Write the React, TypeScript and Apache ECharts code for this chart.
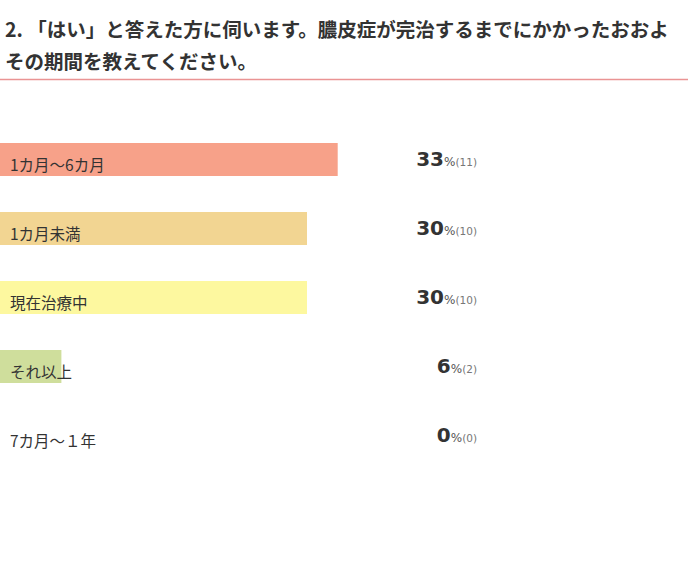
import React, { useEffect, useRef } from "react";
import * as echarts from "echarts";

const titleLines = [
  "2. 「はい」と答えた方に伺います。膿皮症が完治するまでにかかったおおよ",
  "その期間を教えてください。",
];
const categories = ["1カ月～6カ月", "1カ月未満", "現在治療中", "それ以上", "7カ月～１年"];
const counts = [11, 10, 10, 2, 0];
const percents = [33, 30, 30, 6, 0];
const barColors = ["#f7a189", "#f2d592", "#fdf89f", "#cfde9c", "#dddddd"];

export default function App() {
  const ref = useRef<HTMLDivElement>(null);
  useEffect(() => {
    if (!ref.current) return;
    const chart = echarts.init(ref.current, null, { renderer: "svg" });
    const rightLabels = categories.map((_, i) => `{n|${percents[i]}}{p|%}{c|(${counts[i]})}`);
    chart.setOption({
      animation: false,
      backgroundColor: "#ffffff",
      title: {
        text: titleLines.join("\n"),
        left: 0,
        top: 7,
        textStyle: {
          fontFamily: "Noto Sans CJK JP",
          fontSize: 19.5,
          fontWeight: "bold",
          color: "#333333",
          lineHeight: 32,
        },
      },
      graphic: [
        {
          type: "line",
          shape: { x1: 0, y1: 79.5, x2: 688, y2: 79.5 },
          style: { stroke: "#ea9494", lineWidth: 1.5 },
        },
      ],
      grid: { left: 0, top: 125, width: 614, height: 345, containLabel: false },
      xAxis: {
        type: "value",
        min: 0,
        max: 20,
        show: false,
      },
      yAxis: [
        {
          type: "category",
          data: categories,
          inverse: true,
          position: "left",
          axisLine: { show: false },
          axisTick: { show: false },
          splitLine: { show: false },
          axisLabel: {
            inside: true,
            margin: 10,
            align: "left",
            verticalAlign: "top",
            lineHeight: 8,
            color: "#333333",
            fontFamily: "Noto Sans CJK JP",
            fontSize: 15.5,
          },
          z: 10,
        },
        {
          type: "category",
          data: rightLabels,
          inverse: true,
          position: "right",
          axisLine: { show: false },
          axisTick: { show: false },
          splitLine: { show: false },
          axisLabel: {
            inside: true,
            margin: 137,
            align: "right",
            padding: [0, 0, 4, 0],
            rich: {
              n: {
                fontFamily: "DejaVu Sans",
                fontWeight: "bold",
                fontSize: 20,
                color: "#333333",
                lineHeight: 22,
                verticalAlign: "bottom",
              },
              p: {
                fontFamily: "DejaVu Sans",
                fontSize: 12,
                color: "#555555",
                lineHeight: 14,
                verticalAlign: "bottom",
                padding: [0, 0, 1, 0],
              },
              c: {
                fontFamily: "DejaVu Sans",
                fontSize: 10.5,
                color: "#777777",
                lineHeight: 14,
                verticalAlign: "bottom",
                padding: [0, 0, 1, 0],
              },
            },
          },
        },
      ],
      series: [
        {
          type: "bar",
          yAxisIndex: 0,
          barWidth: 33,
          data: counts.map((v, i) => ({ value: v, itemStyle: { color: barColors[i] } })),
          silent: true,
        },
      ],
    });
    return () => chart.dispose();
  }, []);
  return (
    <div
      ref={ref}
      style={{ position: "fixed", left: 0, top: 0, width: 698, height: 563 }}
    />
  );
}
